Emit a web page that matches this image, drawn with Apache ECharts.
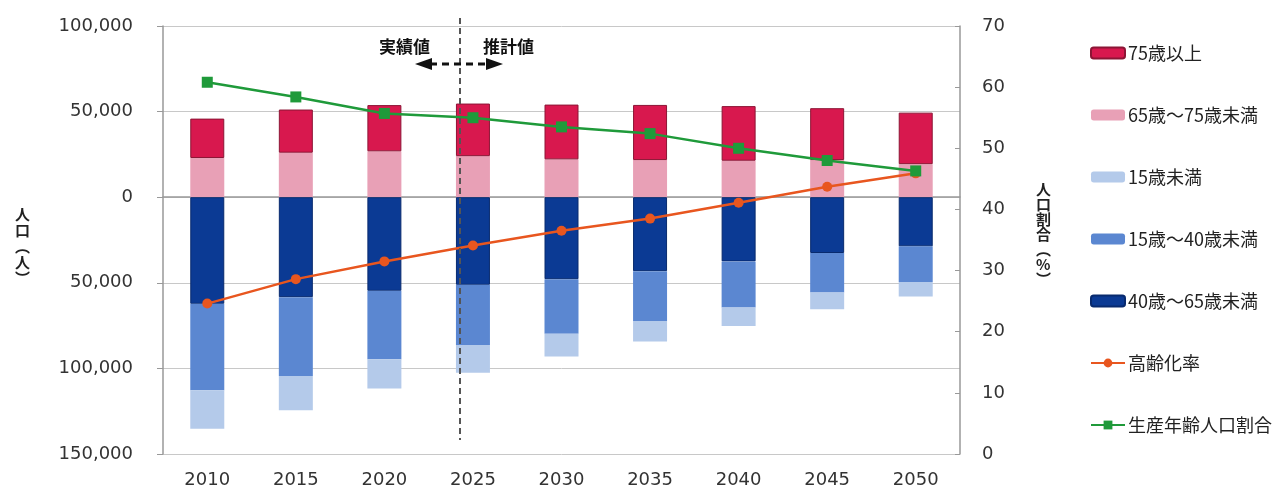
<!DOCTYPE html>
<html>
<head>
<meta charset="utf-8">
<script src="https://cdn.jsdelivr.net/npm/echarts@6/dist/echarts.min.js"></script>
<style>
html,body{margin:0;padding:0;background:#fff;}
#chart{width:1280px;height:489px;}
</style>
</head>
<body>
<div id="chart"></div>
<script>
// ---- data ----
var years = ['2010','2015','2020','2025','2030','2035','2040','2045','2050'];
var age75plus   = [23000, 25200, 27000, 30700, 32000, 32200, 31900, 30300, 30100];
var age65to75   = [22900, 26000, 26800, 24000, 22100, 21700, 21300, 21700, 19300];
var age40to65   = [62300, 58400, 54700, 51200, 47900, 43200, 37500, 32600, 28700];
var age15to40   = [50400, 46100, 39900, 35200, 31800, 29100, 27000, 23000, 20900];
var ageUnder15  = [22500, 19900, 17200, 16100, 13300, 12000, 10800,  9800,  8400];
var agingRate   = [24.6, 28.6, 31.5, 34.1, 36.5, 38.5, 41.1, 43.7, 45.9];
var workingRate = [60.8, 58.4, 55.7, 55.0, 53.5, 52.4, 50.0, 48.0, 46.3];
var seriesNames = ['75歳以上','65歳～75歳未満','15歳未満','15歳～40歳未満','40歳～65歳未満','高齢化率','生産年齢人口割合'];

var neg = function(arr){ return arr.map(function(v){ return -v; }); };
var fmt = function(v){ return Math.abs(v).toLocaleString('en-US'); };

var chart = echarts.init(document.getElementById('chart'));
var axisFont = {fontFamily:'DejaVu Sans', fontSize:18, color:'#333'};
var jp = '"Noto Sans CJK JP", "Noto Sans CJK SC", sans-serif';

var option = {
  animation:false,
  backgroundColor:'#fff',
  grid:{left:163, right:320, top:26, bottom:34},
  legend:{
    orient:'vertical', left:1085, top:38, itemWidth:34, itemHeight:11, itemGap:42,
    textStyle:{fontFamily:jp, fontSize:18, color:'#222', lineHeight:20, padding:[0,0,0,-2]},
    data:seriesNames
  },
  xAxis:{
    type:'category', data:years,
    axisLine:{lineStyle:{color:'#999', width:1.5}},
    axisTick:{show:false},
    axisLabel:Object.assign({margin:17}, axisFont)
  },
  yAxis:[
    {type:'value', min:-150000, max:100000, interval:50000,
     axisLine:{show:true, lineStyle:{color:'#999', width:1.5}},
     axisTick:{show:true, length:6, lineStyle:{color:'#999'}},
     splitLine:{lineStyle:{color:'#c8c8c8', width:1}},
     axisLabel:Object.assign({margin:30, formatter:fmt}, axisFont)},
    {type:'value', min:0, max:70, interval:10, position:'right',
     axisLine:{show:true, lineStyle:{color:'#999', width:1.5}},
     axisTick:{show:true, inside:true, length:5, lineStyle:{color:'#999'}},
     splitLine:{show:false},
     axisLabel:Object.assign({margin:22}, axisFont)}
  ],
  series:[
    {name:'65歳～75歳未満', type:'bar', stack:'pop', barWidth:34, data:age65to75,
     itemStyle:{color:'#e8a0b6'}},
    {name:'75歳以上', type:'bar', stack:'pop', data:age75plus,
     itemStyle:{color:'#d8184e', borderColor:'#8c1535', borderWidth:1}},
    {name:'40歳～65歳未満', type:'bar', stack:'pop', data:neg(age40to65),
     itemStyle:{color:'#0b3a94', borderColor:'#082a6e', borderWidth:1}},
    {name:'15歳～40歳未満', type:'bar', stack:'pop', data:neg(age15to40),
     itemStyle:{color:'#5b87d1'}},
    {name:'15歳未満', type:'bar', stack:'pop', data:neg(ageUnder15),
     itemStyle:{color:'#b4caea'}},
    {name:'高齢化率', type:'line', yAxisIndex:1, data:agingRate, z:5,
     symbol:'circle', symbolSize:10,
     lineStyle:{color:'#e8561f', width:2.5}, itemStyle:{color:'#e8561f'}},
    {name:'生産年齢人口割合', type:'line', yAxisIndex:1, data:workingRate, z:5,
     symbol:'rect', symbolSize:11,
     lineStyle:{color:'#1f9a3a', width:2.5}, itemStyle:{color:'#1f9a3a'}}
  ],
  graphic:[
    {type:'text', left:15, top:206, style:{text:'人\n口\n︵\n人\n︶', font:'bold 15px '+jp, fill:'#222', lineHeight:16, align:'center'}},
    {type:'text', left:1036, top:182, style:{text:'人\n口\n割\n合\n︵\n%\n︶', font:'bold 15px '+jp, fill:'#222', lineHeight:15, align:'center'}},
    {type:'line', shape:{x1:460, y1:18, x2:460, y2:440}, style:{stroke:'#555', lineWidth:2, lineDash:[6,4]}, z:10},
    {type:'text', left:379, top:38, style:{text:'実績値', font:'bold 17px '+jp, fill:'#111'}},
    {type:'text', left:483, top:38, style:{text:'推計値', font:'bold 17px '+jp, fill:'#111'}},
    {type:'line', shape:{x1:430, y1:64, x2:487, y2:64}, style:{stroke:'#111', lineWidth:3, lineDash:[7,5]}, z:11},
    {type:'polygon', shape:{points:[[415,64],[432,58],[432,70]]}, style:{fill:'#111'}, z:11},
    {type:'polygon', shape:{points:[[503,64],[486,58],[486,70]]}, style:{fill:'#111'}, z:11}
  ]
};
chart.setOption(option);
</script>
</body>
</html>
